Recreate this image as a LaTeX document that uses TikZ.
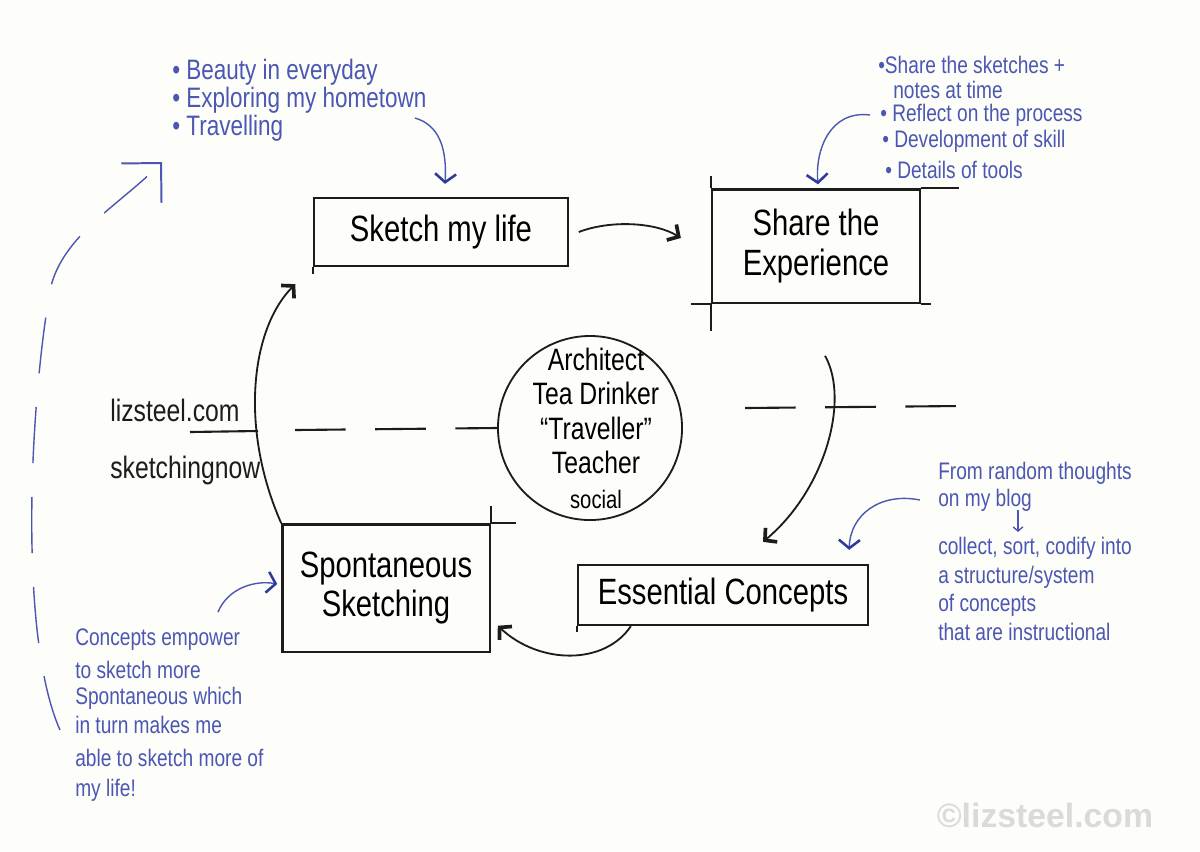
\documentclass[tikz,border=0pt]{standalone}
\usepackage{fontspec}
\usepackage{tikz}
\usetikzlibrary{arrows.meta,calc}

\setmainfont{Liberation Sans}
\newfontfamily\hand{Liberation Sans}[FakeStretch=0.8]

\definecolor{paper}{HTML}{FDFDF9}
\definecolor{ink}{HTML}{1C1C1C}
\definecolor{bluepen}{HTML}{4B57B3}
\definecolor{bluetip}{HTML}{2E3A9C}
\definecolor{markgray}{HTML}{DADADA}

\begin{document}
\begin{tikzpicture}[x=0.025cm,y=-0.025cm]

	\tikzstyle box lines=[draw=ink, line width=1.6pt, align=center, inner sep=0pt, font=\hand\fontsize{26}{28}\selectfont];
	\tikzstyle ink arrow=[draw=ink, line width=1.3pt, -{Straight Barb[length=6pt,width=13pt,line width=2.6pt]}];
	\tikzstyle pen arrow=[draw=bluepen, line width=1pt, -{Straight Barb[length=6pt,width=15pt,line width=1.8pt,color=bluetip]}];
	\tikzstyle pen note=[text=bluepen, anchor=west, inner sep=0pt, font=\hand\fontsize{20}{22}\selectfont];
	\tikzstyle small note=[pen note, font=\hand\fontsize{17}{18}\selectfont];
	\tikzstyle ink note=[text=ink, anchor=west, inner sep=0pt, font=\hand\fontsize{22}{24}\selectfont];

	\fill[paper] (0,0) rectangle (1200,851);
	\useasboundingbox (0,0) rectangle (1200,851);

	% the four steps
	\node[box lines, minimum width=6.33cm, minimum height=1.7cm] (life) at (441,232) {Sketch my life};
	\node[box lines, minimum width=5.2cm, minimum height=2.83cm] (share) at (816,246) {Share the\\Experience};
	\node[box lines, minimum width=7.25cm, minimum height=1.5cm] (ess) at (723,595) {Essential Concepts};
	\node[box lines, minimum width=5.18cm, minimum height=3.18cm] (spont) at (386,588) {Spontaneous\\Sketching};

	% loose pen ends
	\draw[ink, line width=1.6pt] (life.south west) -- ++(0,7);
	\draw[ink, line width=1.6pt] (share.north east) -- ++(38,0);
	\draw[ink, line width=1.6pt] (share.north west) -- ++(0,-12);
	\draw[ink, line width=1.6pt] (share.south west) -- ++(0,27);
	\draw[ink, line width=1.6pt] (share.south west) -- ++(-20,0);
	\draw[ink, line width=1.6pt] (share.south east) -- ++(10,0);
	\draw[ink, line width=1.6pt] (ess.south west) -- ++(0,6);
	\draw[ink, line width=1.6pt] (spont.north east) -- ++(25,0);
	\draw[ink, line width=1.6pt] (spont.north east) -- ++(0,-17);

	% me in the middle
	\node[circle, draw=ink, line width=1.3pt, minimum size=4.6cm, inner sep=0pt] (me) at (590,428) {};
	\node[align=center, inner sep=0pt, font=\hand\fontsize{22}{24.5}\selectfont] (who) at (596,428)
		{Architect\\Tea Drinker\\“Traveller”\\Teacher\\{\fontsize{18}{20}\selectfont social}};

	\node[ink note] (web) at (110,410) {lizsteel.com};
	\node[ink note] (course) at (110,470) {sketchingnow};

	\coordinate (dash start) at (190,432);
	\coordinate (dash gap) at (258,431);
	\coordinate (dash left) at (295,430);
	\coordinate (dash right) at (745,408);
	\coordinate (dash end) at (960,406);
	\draw[ink, line width=1.5pt] (dash start) -- (dash gap);
	\draw[ink, line width=1.5pt, dash pattern=on 36pt off 21pt] (dash left) -- (me.west);
	\draw[ink, line width=1.5pt, dash pattern=on 36pt off 21pt] (dash right) -- (dash end);

	% blue notes
	\foreach \y/\t [count=\i] in {72/{• Beauty in everyday},100/{• Exploring my hometown},128/{• Travelling}}
		\node[pen note] (life\i) at (172,\y) {\t};
	\foreach \x/\y/\t [count=\i] in {878/65/{•Share the sketches +},893/90/{notes at time},880/115/{• Reflect on the process},882/141/{• Development of skill},885/170/{• Details of tools}}
		\node[small note] (share\i) at (\x,\y) {\t};
	\foreach \y/\t [count=\i] in {473/{From random thoughts},500/{on my blog},548/{collect, sort, codify into},577/{a structure/system},605/{of concepts},632/{that are instructional}}
		\node[small note] (ess\i) at (938,\y) {\t};
	\foreach \y/\t [count=\i] in {640/{Concepts empower},670/{to sketch more},698/{Spontaneous which},725/{in turn makes me},758/{able to sketch more of},790/{my life!}}
		\node[small note] (spont\i) at (75,\y) {\t};

	% the cycle
	\draw[ink arrow] (spont.north west) .. controls (240,430) and (250,330) .. ($(life.south west)+(-18,17)$);
	\draw[ink arrow] ($(life.east)+(10,0)$) .. controls (610,220) and (655,222) .. ($(share.west)+(-30,-8)$);
	\draw[ink arrow] ($(share.south)+(9,52)$) .. controls (850,400) and (825,490) .. ($(ess.north)+(40,-22)$);
	\draw[ink arrow] ($(ess.south west)+(54,0)$) .. controls (605,665) and (540,665) .. ($(spont.south east)+(7,-27)$);

	% notes to steps
	\draw[pen arrow] ($(life2.east)+(-12,18)$) .. controls (440,125) and (447,150) .. ($(life.north)+(4,-13)$);
	\draw[pen arrow] ($(share3.west)+(-10,0)$) .. controls (830,110) and (815,150) .. ($(share.north)+(2,-4)$);
	\draw[pen arrow] ($(ess2.west)+(-18,0)$) .. controls (880,492) and (850,515) .. ($(ess.north east)+(-20,-14)$);
	\draw[pen arrow] ($(spont1.west)+(143,-28)$) .. controls (228,588) and (255,580) .. ($(spont.west)+(-4,-4)$);
	\draw[draw=bluepen, line width=1pt, -{Straight Barb[length=3pt,width=7pt]}] ($(ess2.west)+(80,10)$) -- ($(ess3.west)+(80,-16)$);
	\draw[draw=bluepen, line width=1pt, dash pattern=on 40pt off 24pt, -{Straight Barb[length=20pt,width=40pt,line width=1.4pt]}]
		($(spont5.west)+(-15,-28)$) .. controls (20,640) and (28,420) .. (50,290) .. controls (62,235) and (120,205) .. ($(life3.west)+(-10,34)$);

	\node[text=markgray, font=\bfseries\fontsize{24}{24}\selectfont, anchor=east] (mark) at (1158,815) {©lizsteel.com};

\end{tikzpicture}
\end{document}
